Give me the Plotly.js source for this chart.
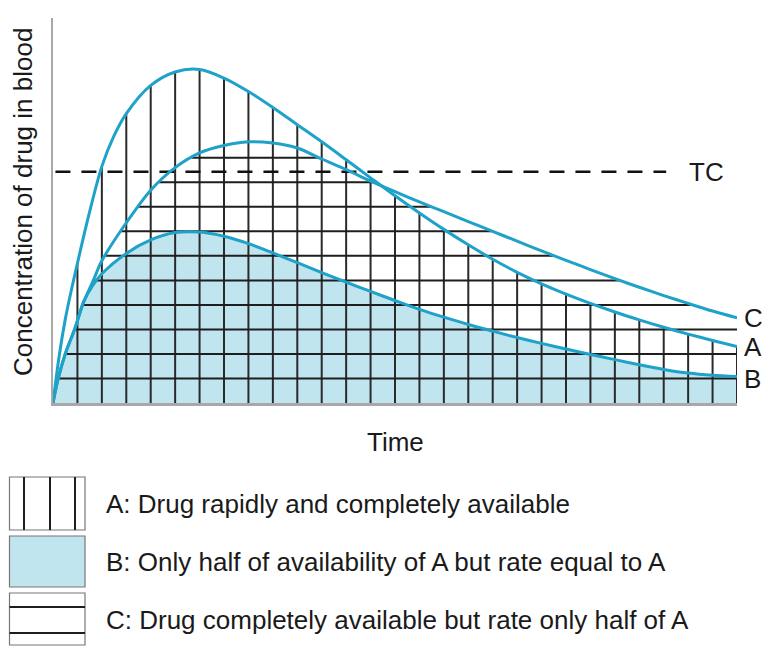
<!DOCTYPE html>
<html><head><meta charset="utf-8">
<script src="https://cdn.plot.ly/plotly-3.0.1.min.js"></script>
<style>html,body{margin:0;padding:0;background:#fff}</style>
</head><body><div id="chart" style="width:762px;height:646px"></div>
<script>
// ---- data ----
const timeA = [0, 0.25, 0.5, 0.75, 1, 1.4, 2, 2.5, 3, 4, 5, 6, 7, 8, 9, 10, 11, 12, 13, 14, 15, 16, 17, 18, 19, 20, 21, 22, 23, 24, 25, 26, 27, 28];
const concA = [0, 1.9, 3.4, 4.6, 5.7, 7.4, 9.65, 10.9, 11.8, 12.95, 13.5, 13.6, 13.25, 12.7, 12.05, 11.35, 10.65, 9.92, 9.18, 8.45, 7.75, 7.08, 6.45, 5.86, 5.33, 4.86, 4.44, 4.06, 3.71, 3.39, 3.09, 2.81, 2.55, 2.3];

const timeB = [0, 0.2, 0.5, 0.9, 1.25, 1.6, 2, 3, 4, 5, 6, 7, 8, 9, 10, 11, 12, 13, 14, 15, 16, 17, 18, 19, 20, 21, 22, 23, 24, 25, 26, 27, 28];
const concB = [0, 0.95, 2.0, 3.05, 4.12, 4.75, 5.27, 6.1, 6.65, 6.95, 6.97, 6.8, 6.5, 6.12, 5.72, 5.32, 4.93, 4.55, 4.18, 3.82, 3.5, 3.2, 2.93, 2.67, 2.43, 2.2, 1.98, 1.77, 1.56, 1.37, 1.22, 1.13, 1.08];

const timeC = [0, 0.2, 0.5, 0.9, 1.25, 1.65, 2, 3, 4, 5, 6, 7, 8, 9, 10, 11, 12, 13, 14, 15, 16, 17, 18, 19, 20, 21, 22, 23, 24, 25, 26, 27, 28];
const concC = [0, 0.95, 2.0, 3.05, 4.1, 5.0, 5.8, 7.35, 8.68, 9.6, 10.2, 10.5, 10.65, 10.6, 10.4, 9.95, 9.52, 9.05, 8.62, 8.2, 7.8, 7.4, 7.0, 6.6, 6.2, 5.82, 5.44, 5.07, 4.72, 4.38, 4.06, 3.75, 3.47];

const hatchTimes = [1, 2, 3, 4, 5, 6, 7, 8, 9, 10, 11, 12, 13, 14, 15, 16, 17, 18, 19, 20, 21, 22, 23, 24, 25, 26, 27, 28];
const hatchLevels = [1, 2, 3, 4, 5, 6, 7, 8, 9, 10];

const tcLevel = [9.43];
const tcSpan = [0.1, 25.1];

const curveLabels = ['TC', 'C', 'A', 'B'];
const axisTitles = ['Time', 'Concentration of drug in blood'];
const legendTexts = [
  'A: Drug rapidly and completely available',
  'B: Only half of availability of A but rate equal to A',
  'C: Drug completely available but rate only half of A'
];

// ---- helpers ----
function interp(xs, ys, x) {
  for (let i = 0; i < xs.length - 1; i++) {
    if (x >= xs[i] && x <= xs[i + 1]) {
      return ys[i] + (ys[i + 1] - ys[i]) * (x - xs[i]) / (xs[i + 1] - xs[i]);
    }
  }
  return ys[ys.length - 1];
}
function crossings(xs, ys, level) {
  let left = xs[0], right = xs[xs.length - 1];
  for (let i = 0; i < xs.length - 1; i++) {
    if (ys[i] < level && ys[i + 1] >= level) {
      left = xs[i] + (level - ys[i]) / (ys[i + 1] - ys[i]) * (xs[i + 1] - xs[i]);
      break;
    }
  }
  for (let i = xs.length - 2; i >= 0; i--) {
    if (ys[i] >= level && ys[i + 1] < level) {
      right = xs[i] + (ys[i] - level) / (ys[i] - ys[i + 1]) * (xs[i + 1] - xs[i]);
      break;
    }
  }
  return [left, right];
}

// vertical hatch (under A)
const vx = [], vy = [];
hatchTimes.forEach(t => { vx.push(t, t, null); vy.push(0, interp(timeA, concA, t), null); });
// horizontal hatch (under C)
const hx = [], hy = [];
hatchLevels.forEach(l => { const c = crossings(timeC, concC, l); hx.push(c[0], c[1], null); hy.push(l, l, null); });

const curveColor = '#1ea2c9';
const hatchColor = '#1e1e1e';
const fillBlue = 'rgb(192,229,239)';
const spl = {shape: 'spline', smoothing: 0.9};

const traces = [
  {x: timeB, y: concB, mode: 'lines', fill: 'tozeroy', fillcolor: fillBlue,
   line: Object.assign({width: 0}, spl), hoverinfo: 'skip'},
  {x: vx, y: vy, mode: 'lines', line: {color: '#2a2a2a', width: 2}, hoverinfo: 'skip'},
  {x: hx, y: hy, mode: 'lines', line: {color: hatchColor, width: 2}, hoverinfo: 'skip'},
  {x: tcSpan, y: [tcLevel[0], tcLevel[0]], mode: 'lines', line: {color: '#111', width: 2.5, dash: '15px,11px'}, hoverinfo: 'skip'},
  {x: timeB, y: concB, mode: 'lines', line: Object.assign({color: curveColor, width: 3}, spl)},
  {x: timeC, y: concC, mode: 'lines', line: Object.assign({color: curveColor, width: 3}, spl)},
  {x: timeA, y: concA, mode: 'lines', line: Object.assign({color: curveColor, width: 3}, spl)}
];

// pixel -> paper helpers for the legend area
const L = 53, T = 18, W = 684, H = 385;
const px = p => (p - L) / W;
const py = p => (T + H - p) / H;

const font = {family: '"Liberation Sans", Arial, sans-serif', size: 26, color: '#1a1a1a'};

const annotations = [
  {x: 25.95, y: tcLevel[0], xref: 'x', yref: 'y', text: curveLabels[0], showarrow: false, xanchor: 'left', yanchor: 'middle', font: font},
  {x: timeC[timeC.length - 1], y: concC[concC.length - 1], xref: 'x', yref: 'y', xshift: 5, text: curveLabels[1], showarrow: false, xanchor: 'left', yanchor: 'middle', font: font},
  {x: timeA[timeA.length - 1], y: concA[concA.length - 1], xref: 'x', yref: 'y', xshift: 5, text: curveLabels[2], showarrow: false, xanchor: 'left', yanchor: 'middle', font: font},
  {x: timeB[timeB.length - 1], y: concB[concB.length - 1], xref: 'x', yref: 'y', xshift: 5, yshift: -2, text: curveLabels[3], showarrow: false, xanchor: 'left', yanchor: 'middle', font: font},
  {x: 0.5, y: py(442), xref: 'paper', yref: 'paper', text: axisTitles[0], showarrow: false, xanchor: 'center', yanchor: 'middle', font: font},
  {x: px(23), y: py(202), xref: 'paper', yref: 'paper', text: axisTitles[1], textangle: -90, showarrow: false, xanchor: 'center', yanchor: 'middle', font: font},
  {x: px(104), y: py(504), xref: 'paper', yref: 'paper', text: legendTexts[0], showarrow: false, xanchor: 'left', yanchor: 'middle', font: font},
  {x: px(104), y: py(562), xref: 'paper', yref: 'paper', text: legendTexts[1], showarrow: false, xanchor: 'left', yanchor: 'middle', font: font},
  {x: px(104), y: py(620), xref: 'paper', yref: 'paper', text: legendTexts[2], showarrow: false, xanchor: 'left', yanchor: 'middle', font: font}
];

const boxLine = {color: '#777', width: 1.2};
const inner = {color: '#1e1e1e', width: 2};
const shapes = [
  {type: 'rect', xref: 'paper', yref: 'paper', x0: px(9.5), x1: px(85), y0: py(477), y1: py(530), line: boxLine},
  {type: 'line', xref: 'paper', yref: 'paper', x0: px(24), x1: px(24), y0: py(477), y1: py(530), line: inner},
  {type: 'line', xref: 'paper', yref: 'paper', x0: px(50), x1: px(50), y0: py(477), y1: py(530), line: inner},
  {type: 'line', xref: 'paper', yref: 'paper', x0: px(75), x1: px(75), y0: py(477), y1: py(530), line: inner},
  {type: 'rect', xref: 'paper', yref: 'paper', x0: px(9.5), x1: px(85), y0: py(536), y1: py(587), line: boxLine, fillcolor: fillBlue},
  {type: 'rect', xref: 'paper', yref: 'paper', x0: px(9.5), x1: px(85), y0: py(593), y1: py(645), line: boxLine},
  {type: 'line', xref: 'paper', yref: 'paper', x0: px(9.5), x1: px(85), y0: py(607), y1: py(607), line: inner},
  {type: 'line', xref: 'paper', yref: 'paper', x0: px(9.5), x1: px(85), y0: py(633), y1: py(633), line: inner}
];

const axisCommon = {showgrid: false, zeroline: false, showticklabels: false, ticks: '', showline: true,
  linecolor: '#a8a8a8', linewidth: 2.5, fixedrange: true};

const layout = {
  width: 762, height: 646,
  margin: {l: L, r: 762 - L - W, t: T, b: 646 - T - H, pad: 0},
  paper_bgcolor: '#fff', plot_bgcolor: '#fff',
  showlegend: false,
  xaxis: Object.assign({range: [0, 28]}, axisCommon),
  yaxis: Object.assign({range: [0, 15.7]}, axisCommon),
  annotations: annotations,
  shapes: shapes,
  font: font
};

Plotly.newPlot('chart', traces, layout, {staticPlot: true, displayModeBar: false});
</script>
</body></html>
